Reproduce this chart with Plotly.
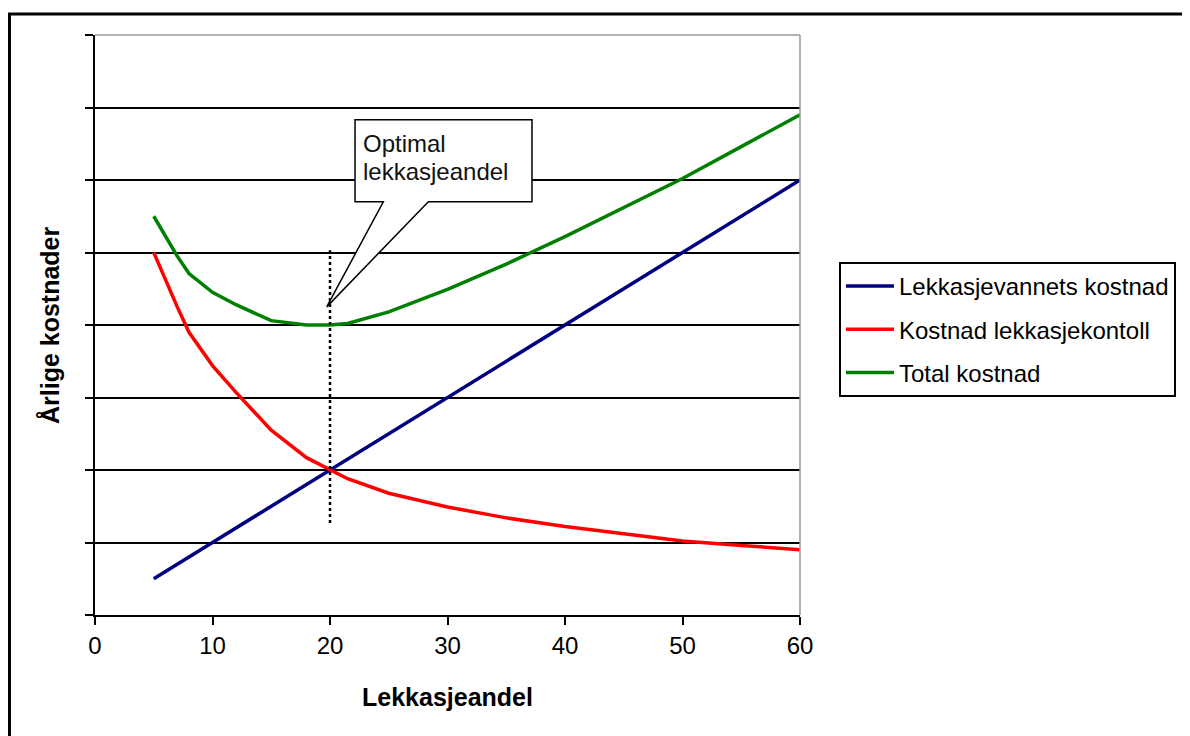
import plotly.graph_objects as go

# Lekkasjeandel (x) values where the curves were sampled
lekkasjeandel = [5, 6, 7, 8, 10, 12, 15, 18, 20, 21.5, 25, 30, 35, 40, 45, 50, 55, 60]

# Årlige kostnader per series (relative units)
lekkasjevann_kostnad = [0.5, 0.6, 0.7, 0.8, 1.0, 1.2, 1.5, 1.8, 2.0, 2.15, 2.5, 3.0,
                        3.5, 4.0, 4.5, 5.0, 5.5, 6.0]
kontroll_kostnad = [5.0, 4.62, 4.25, 3.9, 3.44, 3.07, 2.55, 2.17, 2.0, 1.88, 1.68, 1.49,
                    1.34, 1.22, 1.12, 1.02, 0.96, 0.9]
total_kostnad = [5.5, 5.22, 4.95, 4.71, 4.45, 4.28, 4.06, 4.0, 4.0, 4.02, 4.18, 4.49,
                 4.84, 5.22, 5.62, 6.02, 6.46, 6.9]

series_names = ["Lekkasjevannets kostnad", "Kostnad lekkasjekontoll", "Total kostnad"]
series_colors = ["#000080", "#FF0000", "#008000"]

x_ticks = [0, 10, 20, 30, 40, 50, 60]
y_ticks = [0, 1, 2, 3, 4, 5, 6, 7, 8]

optimum_x = 20
FONT = "Liberation Sans, Arial, sans-serif"


def create_cost_chart() -> go.Figure:
    fig = go.Figure()

    for name, color, values in zip(series_names, series_colors,
                                   [lekkasjevann_kostnad, kontroll_kostnad, total_kostnad]):
        fig.add_trace(
            go.Scatter(
                x=lekkasjeandel,
                y=values,
                mode="lines",
                name=name,
                legendgroup=name,
                line=dict(color=color, width=3.5),
            )
        )

    # dotted marker at the optimum
    fig.add_shape(type="line", xref="x", yref="y", x0=optimum_x, x1=optimum_x,
                  y0=1.27, y1=5.03, line=dict(color="black", width=2.5, dash="dot"))

    # callout box with pointer
    fig.add_shape(
        type="path", xref="x", yref="y", layer="above",
        path="M 22.13,6.83 L 37.19,6.83 L 37.19,5.70 L 28.37,5.70 L 19.72,4.25 "
             "L 24.54,5.70 L 22.13,5.70 Z",
        fillcolor="white", line=dict(color="black", width=1.5),
    )
    fig.add_annotation(x=22.6, y=6.497, xref="x", yref="y", text="Optimal",
                       showarrow=False, xanchor="left", yanchor="middle",
                       font=dict(family=FONT, size=24, color="#111111"))
    fig.add_annotation(x=22.6, y=6.124, xref="x", yref="y", text="lekkasjeandel",
                       showarrow=False, xanchor="left", yanchor="middle",
                       font=dict(family=FONT, size=24, color="#111111"))

    # gray plot-area border on top and right
    fig.add_shape(type="line", xref="paper", yref="paper", x0=0, x1=1, y0=1, y1=1,
                  layer="above", line=dict(color="#9a9a9a", width=1.5))
    fig.add_shape(type="line", xref="paper", yref="paper", x0=1, x1=1, y0=0, y1=1,
                  layer="above", line=dict(color="#9a9a9a", width=1.5))

    # outer chart frame
    fig.add_shape(type="rect", xref="paper", yref="paper",
                  x0=-0.1213, x1=1.6, y0=-0.26, y1=1.036,
                  line=dict(color="black", width=3))

    # axis titles
    fig.add_annotation(x=0.5, y=-0.1414, xref="paper", yref="paper", text="<b>Lekkasjeandel</b>",
                       showarrow=False, xanchor="center", yanchor="middle",
                       font=dict(family=FONT, size=25, color="black"))
    fig.add_annotation(x=-0.0638, y=0.5, xref="paper", yref="paper", text="<b>Årlige kostnader</b>",
                       showarrow=False, textangle=-90, xanchor="center", yanchor="middle",
                       font=dict(family=FONT, size=25, color="black"))

    fig.update_xaxes(
        range=[0, 60], tickvals=x_ticks, showgrid=False, zeroline=False,
        showline=True, linecolor="black", linewidth=2,
        ticks="outside", ticklen=8, tickwidth=2, tickcolor="black",
        tickfont=dict(family=FONT, size=24, color="black"),
    )
    fig.update_yaxes(
        range=[0, 8], tickvals=y_ticks, showticklabels=False, zeroline=False,
        showgrid=True, gridcolor="black", gridwidth=1.5,
        showline=True, linecolor="black", linewidth=2,
        ticks="outside", ticklen=8, tickwidth=2, tickcolor="black",
    )

    # the page puts the figure 8px in from the corner, so shrink to fit
    fig.update_layout(
        width=1182,
        height=728,
        margin=dict(l=87, r=390, t=27, b=121),
        paper_bgcolor="white",
        plot_bgcolor="white",
        font=dict(family=FONT, color="black"),
        legend=dict(
            x=1.0553, y=0.6086, xanchor="left", yanchor="top",
            font=dict(family=FONT, size=24, color="black"),
            bordercolor="black", borderwidth=2, bgcolor="white",
            tracegroupgap=9, itemwidth=48,
        ),
        showlegend=True,
    )
    return fig


fig = create_cost_chart()
fig.write_html("out.html")
